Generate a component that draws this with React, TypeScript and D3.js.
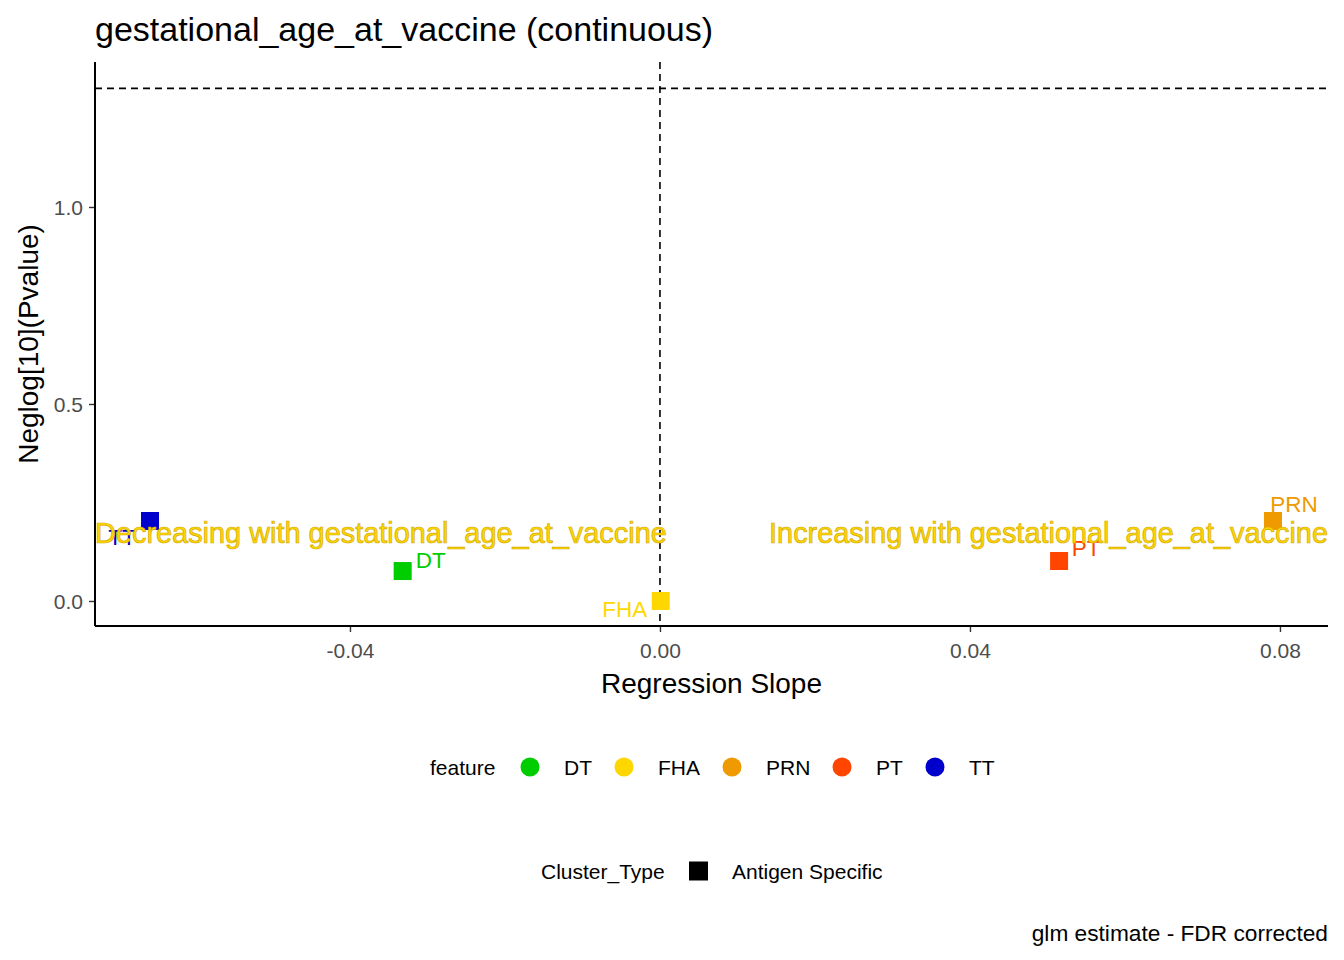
import React, { useEffect, useRef } from 'react'
import { scaleLinear, select, axisBottom, axisLeft } from 'd3';

const features = ['DT', 'FHA', 'PRN', 'PT', 'TT'];
const featureColors = ['#00CD00', '#FFD700', '#EE9A00', '#FF4500', '#0000CD'];
const slopes = [-0.0332, 0.0001, 0.0791, 0.0515, -0.0658];
const negLogP = [0.076, 0.0, 0.203, 0.1015, 0.203];
// repel offsets of the point labels (px)
const labelOffsets = [[28, -11], [-36, 9], [21, -17], [27, -12], [-28, 16]];
const xTicks = [-0.04, 0, 0.04, 0.08];
const yTicks = [0, 0.5, 1.0];
const threshold = 1.301;
const annotationY = 0.173;

const FONT = '"Liberation Sans", Arial, sans-serif';

const App = () => {
    const chartRef = useRef<SVGSVGElement>(null);

    useEffect(() => {
        const width = 1344;
        const height = 960;
        const margin = { top: 62, right: 16, bottom: 334, left: 95 };

        const x = scaleLinear()
            .domain([-0.0729, 0.0862])
            .range([margin.left, width - margin.right]);

        const y = scaleLinear()
            .domain([-0.0635, 1.368])
            .range([height - margin.bottom, margin.top]);

        const svg = select(chartRef.current);
        svg.selectAll('*').remove();
        svg.append('rect').attr('width', width).attr('height', height).attr('fill', 'white');

        // reference lines
        svg.append('line')
            .attr('x1', x(0)).attr('x2', x(0))
            .attr('y1', margin.top).attr('y2', height - margin.bottom)
            .attr('stroke', 'black').attr('stroke-width', 1.6).attr('stroke-dasharray', '7,5');
        svg.append('line')
            .attr('x1', margin.left).attr('x2', width - margin.right)
            .attr('y1', y(threshold)).attr('y2', y(threshold))
            .attr('stroke', 'black').attr('stroke-width', 1.6).attr('stroke-dasharray', '7,5');

        // points
        const pts = features.map((f, i) => ({ f, c: featureColors[i], sx: slopes[i], sy: negLogP[i], off: labelOffsets[i] }));
        const s = 18;
        svg.selectAll('rect.pt')
            .data(pts)
            .enter()
            .append('rect')
            .attr('class', 'pt')
            .attr('x', d => x(d.sx) - s / 2)
            .attr('y', d => y(d.sy) - s / 2)
            .attr('width', s)
            .attr('height', s)
            .attr('fill', d => d.c);

        svg.selectAll('text.lbl')
            .data(pts)
            .enter()
            .append('text')
            .attr('class', 'lbl')
            .attr('x', d => x(d.sx) + d.off[0])
            .attr('y', d => y(d.sy) + d.off[1])
            .attr('text-anchor', 'middle')
            .attr('dominant-baseline', 'central')
            .attr('fill', d => d.c)
            .style('font-family', FONT)
            .style('font-size', '22.5px')
            .text(d => d.f);

        // annotations
        const ann = [
            { t: 'Decreasing with gestational_age_at_vaccine', x: margin.left, a: 'start' },
            { t: 'Increasing with gestational_age_at_vaccine', x: width - margin.right, a: 'end' },
        ];
        svg.selectAll('text.ann')
            .data(ann)
            .enter()
            .append('text')
            .attr('class', 'ann')
            .attr('x', d => d.x)
            .attr('y', y(annotationY))
            .attr('text-anchor', d => d.a)
            .attr('dominant-baseline', 'central')
            .attr('fill', '#FFD700')
            .attr('stroke', '#D4AA00')
            .attr('stroke-width', 0.7)
            .style('font-family', FONT)
            .style('font-size', '28.9px')
            .text(d => d.t);

        // axes
        const gx = svg.append('g')
            .attr('transform', `translate(0, ${height - margin.bottom})`)
            .call(axisBottom(x).tickValues(xTicks).tickFormat(d => (d as number).toFixed(2)).tickSize(6).tickPadding(6));
        const gy = svg.append('g')
            .attr('transform', `translate(${margin.left}, 0)`)
            .call(axisLeft(y).tickValues(yTicks).tickFormat(d => (d as number).toFixed(1)).tickSize(6).tickPadding(6));

        [gx, gy].forEach(g => {
            g.select('.domain').remove();
            g.selectAll('.tick line').attr('stroke', '#333333').attr('stroke-width', 1.4);
            g.selectAll('.tick text')
                .attr('fill', '#4D4D4D')
                .style('font-family', FONT)
                .style('font-size', '21px');
        });
        gx.selectAll('.tick text').attr('dy', '0.95em');
        gy.selectAll('.tick text').attr('dy', '0.35em');

        svg.append('line')
            .attr('x1', margin.left).attr('x2', width - margin.right)
            .attr('y1', height - margin.bottom).attr('y2', height - margin.bottom)
            .attr('stroke', 'black').attr('stroke-width', 2);
        svg.append('line')
            .attr('x1', margin.left).attr('x2', margin.left)
            .attr('y1', margin.top).attr('y2', height - margin.bottom)
            .attr('stroke', 'black').attr('stroke-width', 2);

        // titles
        svg.append('text')
            .attr('x', margin.left).attr('y', 29)
            .attr('dominant-baseline', 'central')
            .style('font-family', FONT).style('font-size', '34px')
            .text('gestational_age_at_vaccine (continuous)');
        svg.append('text')
            .attr('x', (margin.left + width - margin.right) / 2).attr('y', 683)
            .attr('text-anchor', 'middle').attr('dominant-baseline', 'central')
            .style('font-family', FONT).style('font-size', '28px')
            .text('Regression Slope');
        svg.append('text')
            .attr('transform', `translate(28, ${(margin.top + height - margin.bottom) / 2}) rotate(-90)`)
            .attr('text-anchor', 'middle').attr('dominant-baseline', 'central')
            .style('font-family', FONT).style('font-size', '28px')
            .text('Neglog[10](Pvalue)');
        svg.append('text')
            .attr('x', width - margin.right).attr('y', 933)
            .attr('text-anchor', 'end').attr('dominant-baseline', 'central')
            .style('font-family', FONT).style('font-size', '22.7px')
            .text('glm estimate - FDR corrected');

        // legend: feature
        const legY = 767;
        const keyX = [530, 624, 732, 842, 935];
        const leg = svg.append('g');
        leg.append('text')
            .attr('x', 430).attr('y', legY).attr('dominant-baseline', 'central')
            .style('font-family', FONT).style('font-size', '21px')
            .text('feature');
        pts.forEach((d, i) => {
            leg.append('circle').attr('cx', keyX[i]).attr('cy', legY).attr('r', 9.5).attr('fill', d.c);
            leg.append('text')
                .attr('x', keyX[i] + 34).attr('y', legY).attr('dominant-baseline', 'central')
                .style('font-family', FONT).style('font-size', '21px')
                .text(d.f);
        });

        // legend: cluster type
        const leg2Y = 871;
        leg.append('text')
            .attr('x', 541).attr('y', leg2Y).attr('dominant-baseline', 'central')
            .style('font-family', FONT).style('font-size', '21px')
            .text('Cluster_Type');
        leg.append('rect').attr('x', 689).attr('y', leg2Y - 9.5).attr('width', 19).attr('height', 19).attr('fill', 'black');
        leg.append('text')
            .attr('x', 732).attr('y', leg2Y).attr('dominant-baseline', 'central')
            .style('font-family', FONT).style('font-size', '21px')
            .text('Antigen Specific');
    }, [chartRef]);

    return (
        <svg ref={chartRef} width={1344} height={960}
            style={{ position: 'absolute', left: 0, top: 0, display: 'block' }} />
    )
}

export default App
